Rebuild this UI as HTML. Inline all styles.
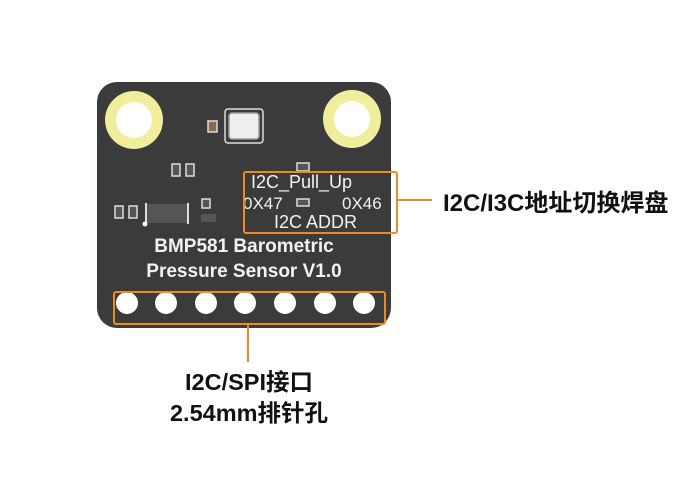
<!DOCTYPE html>
<html><head><meta charset="utf-8"><style>
html,body{margin:0;padding:0;background:#fff;}
svg{display:block;}
.cn{font-family:"Liberation Sans","Noto Sans CJK SC",sans-serif;font-weight:bold;fill:#111;}
.w{font-family:"Liberation Sans",sans-serif;fill:#f2f2f2;}
</style></head><body>
<svg width="700" height="493" viewBox="0 0 700 493" xmlns="http://www.w3.org/2000/svg">
<rect x="97" y="82" width="294" height="246" rx="20" fill="#3b3b3b"/>
<circle cx="134" cy="120" r="29" fill="#f1ee9b"/><circle cx="134" cy="120" r="18" fill="#fff"/>
<circle cx="352" cy="119" r="29" fill="#f1ee9b"/><circle cx="352" cy="119" r="18" fill="#fff"/>
<rect x="225" y="109" width="38" height="34" rx="3" fill="none" stroke="#ddd" stroke-width="1.5"/>
<rect x="229" y="113" width="30" height="26" rx="3" fill="#eee" stroke="#999" stroke-width="1.5"/>
<rect x="208" y="121" width="9" height="11" fill="#8a6a4a" stroke="#ddd" stroke-width="1.5"/>
<g fill="#555" stroke="#ddd" stroke-width="1.5">
<rect x="172" y="164" width="8" height="12"/><rect x="186" y="164" width="8" height="12"/>
<rect x="115" y="206" width="8" height="12"/><rect x="129" y="206" width="8" height="12"/>
<rect x="202" y="199" width="8" height="9"/>
<rect x="297" y="163" width="12" height="8"/>
<rect x="297" y="199" width="12" height="7"/>
</g>
<rect x="146" y="204" width="42" height="19" fill="#555"/>
<rect x="145" y="203" width="2" height="21" fill="#ddd"/><rect x="187" y="203" width="2" height="21" fill="#ddd"/>
<circle cx="145" cy="224" r="2.5" fill="#fff"/>
<rect x="201" y="214" width="15" height="8" fill="#555"/>
<text class="w" x="251" y="188" font-size="18">I2C_Pull_Up</text>
<text class="w" x="243" y="209" font-size="17">0X47</text>
<text class="w" x="342" y="209" font-size="17">0X46</text>
<text class="w" x="274" y="228" font-size="18">I2C ADDR</text>
<text class="w" x="244" y="252" font-size="19" font-weight="bold" text-anchor="middle">BMP581 Barometric</text>
<text class="w" x="244" y="277" font-size="19" font-weight="bold" text-anchor="middle">Pressure Sensor V1.0</text>
<g fill="#fff">
<circle cx="127" cy="303" r="11"/><circle cx="166" cy="303" r="11"/><circle cx="206" cy="303" r="11"/>
<circle cx="245" cy="303" r="11"/><circle cx="285" cy="303" r="11"/><circle cx="325" cy="303" r="11"/>
<circle cx="364" cy="303" r="11"/>
</g>
<g fill="none" stroke="#ef8a1e" stroke-width="2">
<rect x="114" y="292" width="271" height="32" rx="2"/>
<rect x="244" y="172" width="153" height="61" rx="2"/>
<line x1="397" y1="200" x2="432" y2="200"/>
<line x1="248" y1="324" x2="248" y2="362"/>
</g>
<text class="cn" x="443" y="211" font-size="24">I2C/I3C地址切换焊盘</text>
<text class="cn" x="249" y="390" font-size="23.5" text-anchor="middle">I2C/SPI接口</text>
<text class="cn" x="249" y="421" font-size="23.5" text-anchor="middle">2.54mm排针孔</text>
</svg>
</body></html>
